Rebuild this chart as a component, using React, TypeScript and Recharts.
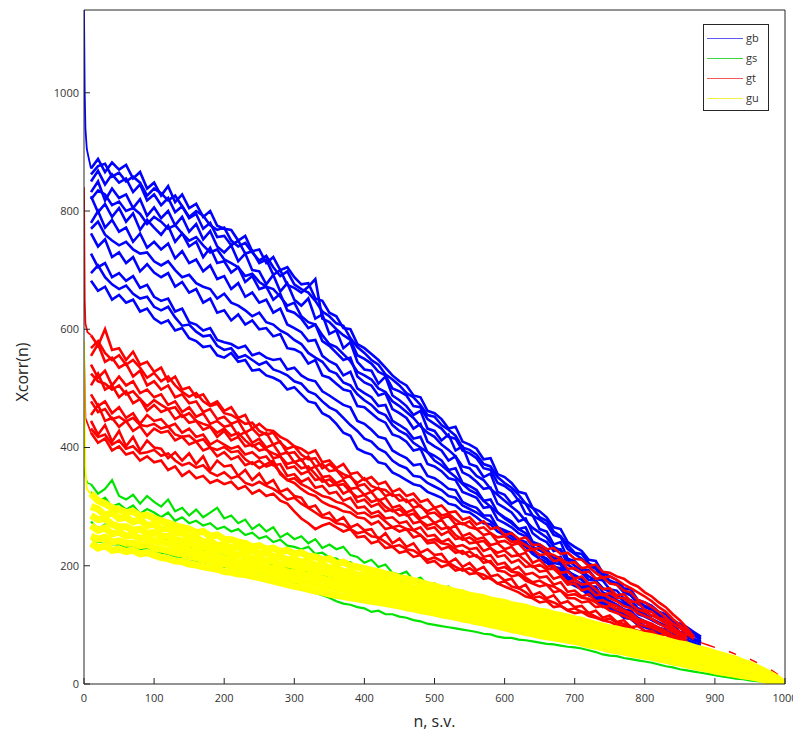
import React from 'react';
import { LineChart, Line, XAxis, YAxis, Legend } from 'recharts';

const X_TICKS = [0, 100, 200, 300, 400, 500, 600, 700, 800, 900, 1000];
const Y_TICKS = [0, 200, 400, 600, 800, 1000];
const SERIES_NAMES = ['gb', 'gs', 'gt', 'gu'];

// heads (spike at n = 0)
const GB_HEAD_X = [0, 1, 2, 4, 7, 10];
const GB_HEAD_Y = [1140, 1000, 940, 905, 888, 872];
const GT_HEAD_X = [0, 1, 2, 5, 10];
const GT_HEAD_Y = [840, 650, 610, 595, 590];
const GT_HEAD2_X = [0, 2, 10];
const GT_HEAD2_Y = [560, 450, 425];
const GS_HEAD_X = [0, 2, 5, 10];
const GS_HEAD_Y = [365, 350, 340, 338];
const GU_HEAD_X = [0, 1, 2, 4, 7, 10];
const GU_HEAD_Y = [580, 430, 360, 330, 325, 322];

// gb series, n = 10, 20, 30 ...
const GB_1 = [872,888,866,882,870, 878,855,866,838,848, 826,842,815,828,805, 812,790,800,775,770, 768,750,758,732,735, 712,722,700,705,688, 676,678,652,648,628, 622,602,600,575,568, 558,548,535,522,512, 505,488,485,462,458, 448,432,435,410,405, 398,380,382,355,350, 340,325,322,298,292, 282,265,262,240,232, 225,210,208,188,182, 176,162,160,142,138, 132,122,118,106,102, 96,88,80];
const GB_1B = [862,876,880,858,865, 850,858,848,826,838, 830,818,826,808,790, 800,792,776,768,772, 750,740,746,730,716, 724,705,690,698,676, 668,662,648,630,622, 610,606,585,570,560, 548,540,524,515,505, 492,485,472,455,452, 438,430,420,400,396, 388,372,368,350,340, 332,320,305,298,282, 276,258,250,235,222, 220,204,198,185,175, 170,160,150,140,132, 128,118,110,104,96, 94,84,78];
const GB_2 = [850,868,845,862,848, 855,832,845,818,828, 810,822,798,808,788, 795,770,780,756,758, 742,750,728,732,712, 718,692,700,675,670, 662,672,685,618,612, 600,590,582,556,550, 542,528,522,500,495, 488,470,468,448,440, 432,418,415,395,390, 382,365,362,340,335, 326,310,305,285,278, 270,252,248,228,220, 212,200,195,178,172, 168,155,150,135,130, 125,116,112,100,95, 90,82,75];
const GB_3 = [832,850,818,838,822, 828,805,820,792,806, 788,800,776,790,765, 778,752,766,740,730, 742,715,728,700,698, 676,692,664,678,650, 640,652,618,625,592, 598,568,578,545,532, 530,508,520,488,480, 470,455,462,432,428, 412,422,395,402,372, 368,350,356,325,320, 305,312,288,285,262, 258,236,240,212,208, 195,192,178,175,160, 158,145,142,128,124, 115,116,102,100,88, 86,76,72];
const GB_3B = [820,835,828,810,816, 800,805,795,778,790, 782,770,776,762,750, 756,742,730,735,718, 712,705,690,694,680, 672,668,655,640,645, 622,612,608,590,575, 570,558,546,528,522, 515,500,494,478,470, 460,450,436,425,418, 405,396,385,368,365, 352,345,330,320,310, 300,290,276,264,256, 248,232,226,210,200, 192,182,175,162,156, 150,140,132,124,118, 110,104,98,90,86, 80,76,70];
const GB_4 = [825,798,812,790,805, 782,796,768,785,772, 760,775,748,762,740, 748,722,738,712,715, 696,705,680,690,668, 672,650,660,632,628, 618,602,608,580,572, 560,548,552,520,510, 505,488,492,465,458, 450,432,440,410,402, 395,378,385,358,352, 342,330,332,305,298, 290,275,280,255,246, 240,225,228,202,194, 188,176,175,155,150, 142,136,132,118,114, 108,102,98,88,84, 80,74,70];
const GB_5 = [780,800,772,785,765, 772,748,762,738,748, 735,745,720,732,712, 718,698,708,685,690, 668,678,655,662,645, 650,628,635,608,602, 595,580,582,555,546, 540,522,528,500,492, 485,470,472,445,438, 430,415,418,392,386, 378,362,365,340,335, 328,310,312,290,282, 275,262,265,240,236, 228,212,215,190,184, 178,165,165,145,140, 134,126,124,110,106, 100,95,92,82,78, 75,70,66];
const GB_5B = [770,782,760,750,742, 748,735,728,730,715, 708,715,700,688,692, 678,672,668,652,660, 645,640,632,622,628, 612,608,598,592,582, 575,560,552,545,530, 525,510,505,490,480, 472,460,455,438,428, 422,408,400,392,378, 370,360,350,338,328, 322,310,300,290,280, 272,262,255,240,232, 225,212,205,192,182, 176,165,158,148,140, 134,126,120,112,106, 100,94,88,84,78, 74,68];
const GB_6 = [762,740,752,722,730, 712,722,698,710,696, 688,695,672,680,662, 668,645,652,628,632, 615,625,608,615,600, 602,588,592,568,566, 560,542,548,522,518, 508,498,495,470,468, 458,448,442,422,418, 410,395,398,372,368, 360,348,345,325,320, 315,298,300,278,272, 265,255,250,232,226, 220,205,202,182,176, 170,160,155,142,136, 132,122,120,108,104, 100,92,90,80,76, 72,68];
const GB_7 = [728,705,712,688,695, 682,690,670,675,655, 648,652,630,635,612, 608,598,602,582,578, 575,568,572,556,560, 552,548,550,532,535, 522,515,512,495,488, 480,472,468,445,440, 430,418,415,395,388, 382,370,372,352,348, 340,330,328,308,302, 298,285,285,265,260, 255,245,240,225,218, 212,198,196,178,170, 165,155,150,138,130, 126,118,115,104,98, 95,88,86,78,74, 70,66];
const GB_7B = [695,708,688,676,668, 674,660,652,655,638, 632,638,620,606,608, 596,588,590,572,565, 568,552,556,548,540, 545,532,528,522,512, 508,495,490,478,468, 462,450,438,428,415, 410,398,392,378,370, 365,352,350,340,334, 328,318,315,302,296, 290,282,275,265,258, 250,242,236,225,218, 210,200,192,180,170, 165,155,148,138,130, 126,118,112,104,98, 94,88,84,78,73, 70];
const GB_8 = [682,665,672,650,658, 645,650,630,635,618, 610,615,598,602,585, 580,570,572,556,552, 560,545,548,530,532, 522,518,512,498,502, 490,478,475,458,452, 440,425,420,398,392, 388,375,372,358,352, 345,338,335,325,320, 315,305,302,292,290, 282,272,270,258,252, 245,238,232,220,212, 205,195,190,172,166, 160,150,145,132,126, 122,112,110,100,96, 92,86,84,76,72, 68];

// gs series
const GS_1 = [338,322,330,345,318, 312,320,305,318,308, 300,312,292,298,285, 295,282,290,298,280, 285,272,278,262,270, 258,265,248,255,245, 250,238,245,230,236, 228,232,218,215,205, 210,198,202,188,185, 190,175,180,168,170, 162,165,155,158,150, 152,142,145,135,132, 135,126,128,120,122, 115,118,110,112,106, 108,100,102,95,92, 94,86,88,80,78, 80,72,74,66,62, 64,56,58,50,45, 46,38,40,30,26, 24,18,14,8,0];
const GS_2 = [325,308,315,300,305, 295,302,288,296,290, 282,290,276,282,272, 276,268,272,262,266, 258,262,252,256,246, 250,240,244,234,232, 228,232,220,222,214, 212,205,206,196,192, 188,190,180,182,172, 172,165,165,158,155, 150,152,144,146,138, 138,132,132,125,122, 120,118,114,112,108, 108,104,104,98,98, 94,92,88,86,82, 80,78,74,72,68, 66,64,60,58,54, 52,50,46,42,38, 36,32,28,24,20, 16,12,8,5,0];
const GS_3 = [275,262,270,255,262, 250,258,244,252,245, 240,246,234,240,230, 236,226,232,222,220, 216,222,210,214,206, 208,200,204,196,195, 188,192,182,186,178, 180,172,174,166,165, 158,162,152,155,148, 150,142,144,136,135, 128,132,124,126,120, 122,116,116,110,110, 104,106,100,100,96, 96,92,90,86,85, 80,82,76,76,72, 72,68,66,62,60, 56,56,52,50,46, 46,42,40,36,32, 30,28,24,20,16, 14,10,7,4,0];
const GS_4 = [246,240,242,236,236, 232,234,228,230,226, 222,220,216,215,211, 209,206,204,202,198, 197,194,193,190,188, 185,182,179,176,173, 166,160,154,150,146, 140,136,134,130,128, 122,124,118,118,114, 112,108,106,102,100, 98,96,94,92,90, 88,85,84,80,78, 78,75,74,72,70, 68,67,65,63,62, 60,57,54,50,48, 47,44,42,40,38, 36,33,30,28,25, 23,21,19,17,15, 13,11,9,8,6, 5,4,2,1,0];

// gt series
const GT_1 = [590,572,600,565,568, 548,562,540,545,528, 535,512,520,498,502, 485,490,472,478,462, 468,450,455,432,440, 430,428,418,412,402, 398,390,395,375,378, 365,372,355,358,345, 350,338,342,325,330, 318,322,308,312,298, 302,290,292,278,282, 270,275,262,265,252, 255,245,248,235,236, 228,230,220,222,212, 210,200,202,190,188, 182,178,170,165,155, 148,138,130,118,108, 95,80];
const GT_1B = [568,580,560,548,556, 540,548,535,518,526, 512,520,505,494,486, 492,478,470,474,458, 455,448,440,442,428, 422,425,408,398,402, 388,380,382,365,372, 362,355,350,340,348, 335,330,328,318,320, 308,312,300,292,298, 285,288,278,270,275, 262,265,255,248,250, 240,242,235,228,230, 222,218,212,204,206, 196,198,188,180,182, 176,168,162,155,148, 140,130,122,110,100, 90,78];
const GT_2 = [555,575,545,552,535, 542,520,530,505,512, 498,505,485,490,475, 478,460,465,448,452, 440,445,425,432,420, 425,405,410,390,392, 378,385,368,372,360, 362,348,352,335,338, 325,332,318,322,310, 312,298,302,288,290, 280,284,270,272,265, 262,252,255,240,242, 235,238,225,228,218, 220,208,210,195,196, 188,190,178,180,170, 168,158,155,142,138, 130,122,112,102,95, 85,76];
const GT_3 = [540,518,530,505,520, 505,512,492,498,485, 490,472,478,460,468, 452,458,440,445,435, 438,420,426,408,415, 400,405,388,392,375, 380,362,368,350,352, 340,345,330,332,320, 325,310,315,298,302, 290,295,280,284,272, 278,262,268,250,255, 245,248,235,238,228, 232,218,222,205,210, 198,200,188,190,178, 182,170,172,160,162, 150,152,140,138,125, 122,112,108,96,88, 80];
const GT_3B = [525,512,508,498,505, 490,495,482,470,480, 472,465,468,452,458, 445,440,436,425,432, 420,425,412,402,408, 396,390,385,372,376, 365,368,355,342,346, 336,338,325,316,320, 308,312,300,292,296, 285,288,276,268,272, 262,265,252,244,248, 240,242,230,222,226, 216,218,208,198,202, 194,195,184,172,176, 168,170,160,150,154, 146,145,135,126,122, 116,110,102,92,86, 78];
const GT_4 = [505,525,498,505,485, 495,475,482,462,472, 460,465,448,455,442, 445,430,435,418,428, 412,418,402,405,395, 398,382,385,365,368, 355,360,345,348,335, 338,322,328,308,312, 300,305,292,295,285, 288,272,275,262,265, 252,258,245,248,238, 240,225,230,215,218, 205,210,198,200,190, 192,178,182,168,170, 158,162,150,152,145, 140,132,128,120,115, 110,102,96,88,82, 76];
const GT_5 = [490,470,478,458,468, 450,458,440,455,445, 448,435,440,425,432, 418,422,405,412,405, 398,402,388,392,382, 385,370,372,352,355, 342,348,332,335,322, 325,310,315,298,300, 288,292,280,282,272, 275,260,265,250,252, 240,245,232,235,228, 230,215,218,202,205, 192,198,185,188,180, 182,168,172,156,158, 148,152,140,142,136, 132,125,120,110,106, 102,95,90,82,78, 72];
const GT_5B = [478,460,465,448,452, 444,450,438,436,440, 432,436,422,418,420, 410,414,400,396,401, 392,394,380,372,378, 368,372,358,345,348, 338,332,325,318,315, 308,305,298,288,290, 282,285,275,265,268, 262,260,252,242,245, 238,236,228,220,224, 215,212,205,195,198, 190,188,180,172,175, 168,165,158,150,152, 146,144,138,130,132, 126,122,115,106,104, 98,95,86,80,76, 70];
const GT_6 = [455,472,445,450,435, 445,428,436,420,432, 425,428,412,418,405, 410,395,400,385,392, 380,385,370,375,365, 372,378,355,345,340, 330,322,318,308,302, 298,292,290,282,280, 270,275,262,265,258, 262,248,252,238,240, 228,232,222,225,215, 218,205,208,192,190, 182,185,175,170,165, 168,155,158,145,145, 138,140,130,132,124, 120,115,110,102,98, 95,90,84,78,74, 70];
const GT_7 = [445,422,438,410,428, 402,418,395,412,400, 398,382,392,378,390, 372,385,362,378,368, 370,352,362,345,356, 338,345,325,330,318, 315,298,302,285,290, 275,282,265,270,260, 262,245,255,238,246, 232,238,222,228,218, 220,205,212,198,205, 192,198,182,185,175, 178,162,168,150,155, 145,150,136,140,130, 132,120,124,112,116, 105,108,96,98,90, 90,82,84,74,72, 66];
const GT_7B = [432,418,422,405,412, 398,402,390,392,396, 386,390,378,370,374, 366,370,358,352,358, 348,352,340,336,342, 335,330,322,312,315, 305,298,290,282,280, 272,270,262,255,258, 250,248,240,232,235, 228,226,218,210,214, 208,205,198,192,196, 188,185,178,170,174, 165,162,155,146,148, 142,138,132,125,128, 122,120,114,108,111, 104,102,96,88,89, 86,82,76,70,69, 64];
const GT_8 = [425,408,415,395,402, 388,392,378,385,375, 378,362,368,352,360, 348,352,340,345,338, 342,330,335,322,328, 318,322,310,305,292, 280,272,262,268,272, 265,258,262,248,250, 238,242,230,232,222, 225,215,218,205,208, 198,202,192,195,186, 188,178,180,170,165, 160,155,148,145,138, 140,130,132,124,120, 122,115,112,108,105, 100,98,92,90,85, 84,80,76,72,68, 64];
const GT_TAIL = [70, 66, 62, null, 55, 50, null, 42, 36, null, 24, 16];

// gu series
const GU_1 = [322,310,305,298,295, 290,292,284,286,280, 276,272,268,265,262, 256,258,250,252,245, 244,240,238,232,234, 228,230,224,226,220, 222,216,215,210,212, 204,206,200,198,195, 192,190,186,184,180, 178,175,172,168,166, 162,160,156,154,150, 148,146,142,140,138, 134,132,130,126,123, 122,118,116,113,110, 108,104,101,98,95, 93,90,88,85,82, 80,77,74,71,68, 66,62,59,56,52, 49,45,42,37,33, 28,22,16,9,0];
const GU_2 = [300,296,285,290,280, 282,274,278,268,270, 262,264,255,256,248, 248,240,242,234,236, 230,232,225,226,220, 222,215,216,210,211, 206,208,200,202,196, 196,190,190,184,185, 180,180,174,174,168, 168,162,162,156,157, 151,152,146,146,141, 140,136,135,130,130, 125,125,120,119,115, 114,110,109,104,103, 99,98,93,92,88, 87,83,82,77,76, 72,71,66,65,61, 59,55,53,49,46, 43,39,36,32,29, 24,19,13,7,0];
const GU_3 = [285,278,280,270,266, 266,260,262,255,256, 250,250,244,242,238, 236,232,230,226,224, 222,218,218,212,212, 208,208,202,203,200, 195,196,190,190,187, 184,180,180,175,174, 170,169,165,164,161, 157,156,152,150,147, 144,142,138,137,133, 131,128,126,123,121, 118,116,112,110,107, 105,102,100,97,95, 92,89,86,83,80, 78,75,73,70,68, 66,63,60,58,55, 52,49,46,43,40, 37,34,31,28,25, 20,16,11,6,0];
const GU_4 = [268,260,264,254,257, 250,252,246,248,242, 240,238,232,232,226, 225,220,220,214,212, 212,206,207,202,201, 197,196,192,190,188, 184,184,179,178,175, 173,170,169,165,164, 160,159,155,154,151, 148,147,142,141,138, 135,134,129,128,125, 122,120,117,115,112, 109,107,103,101,98, 96,93,92,89,87, 84,82,78,76,73, 71,68,66,63,61, 58,56,53,51,48, 45,43,40,37,34, 31,29,26,23,20, 16,13,9,5,0];
const GU_5 = [250,245,248,240,242, 238,238,234,236,230, 228,225,222,220,215, 214,210,208,205,203, 200,198,196,193,192, 188,186,182,180,177, 174,172,169,166,164, 162,160,157,155,153, 151,149,146,144,142, 139,137,134,131,129, 126,124,121,119,116, 113,111,108,106,104, 101,98,95,93,90, 88,86,84,82,80, 77,74,71,68,65, 63,61,58,56,54, 52,49,47,44,42, 39,37,34,31,28, 26,23,21,18,16, 13,10,7,4,0];
const GU_6 = [238,230,234,226,228, 224,226,220,222,218, 214,212,208,207,203, 201,198,196,194,190, 189,186,185,182,180, 177,174,171,168,165, 163,160,157,155,152, 150,148,146,144,142, 140,138,136,134,132, 129,127,124,122,120, 117,115,113,110,108, 105,103,100,98,95, 92,90,87,85,82, 80,78,76,74,72, 69,66,64,61,58, 56,54,51,49,47, 45,42,40,37,35, 32,30,27,25,22, 20,18,16,14,12, 10,7,5,2,0];

const GB_LINES = [GB_1, GB_1B, GB_2, GB_3, GB_3B, GB_4, GB_5, GB_5B, GB_6, GB_7, GB_7B, GB_8];
const GS_LINES = [GS_1, GS_2, GS_3, GS_4];
const GT_LINES = [GT_1, GT_1B, GT_2, GT_3, GT_3B, GT_4, GT_5, GT_5B, GT_6, GT_7, GT_7B, GT_8];
const GU_LINES = [GU_1, GU_2, GU_3, GU_4, GU_5, GU_6];

const BLUE = '#0000ff';
const GREEN = '#00e400';
const RED = '#ff0000';
const YELLOW = '#ffff00';
const LEGEND_COLORS = ['#5c5cf0', '#3ed83e', '#f25a5a', '#f2f040'];
const AXIS = '#262626';
const FONT = '"Open Sans", "Liberation Sans", sans-serif';

const mk = (vals: (number | null)[], x0 = 10) => vals.map((y, i) => ({ x: x0 + i * 10, y }));
const mkXY = (xs: number[], ys: number[]) => xs.map((x, i) => ({ x, y: ys[i] }));

const YLabel = () => (
  <text x={14} y={364} transform="rotate(-90 14 364)" textAnchor="middle" dominantBaseline="central"
    fontSize={16} fill={AXIS} fontFamily={FONT}>Xcorr(n)</text>
);
const XLabel = () => (
  <text x={426.5} y={719} textAnchor="middle" fontSize={16} fill={AXIS} fontFamily={FONT}>n, s.v.</text>
);

const LegendBox = () => (
  <div style={{ width: 64, height: 82, border: `1px solid ${AXIS}`, background: '#fff', fontFamily: FONT, fontSize: 11, paddingTop: 3, boxSizing: 'content-box' }}>
    {SERIES_NAMES.map((n, i) => (
      <div key={n} style={{ display: 'flex', alignItems: 'center', height: 20 }}>
        <div style={{ width: 36, height: 0, borderTop: `1.5px solid ${LEGEND_COLORS[i]}`, marginLeft: 3 }} />
        <span style={{ marginLeft: 3, color: '#333', lineHeight: '20px' }}>{n}</span>
      </div>
    ))}
  </div>
);

const lineProps = { dataKey: 'y', dot: false, activeDot: false, isAnimationActive: false, legendType: 'none' as const };
const W_BR = 2.6;

export default function App() {
  return (
    <div style={{ width: 793, height: 738, background: '#fff', fontFamily: FONT }}>
      <LineChart width={793} height={738} margin={{ top: 1, right: 15, bottom: 0, left: 0 }}>
        <XAxis dataKey="x" type="number" domain={[0, 1000]} ticks={X_TICKS} interval={0} height={62}
          tickSize={-6} tickMargin={16} stroke={AXIS}
          tick={{ fill: '#333', fontSize: 11, fontFamily: FONT }} label={<XLabel />} allowDataOverflow />
        <XAxis xAxisId="top" orientation="top" dataKey="x" type="number" domain={[0, 1000]} ticks={X_TICKS}
          interval={0} height={1} tickSize={-6} tick={false} stroke={AXIS} allowDataOverflow />
        <YAxis type="number" domain={[0, 1140]} ticks={Y_TICKS} interval={0} width={76} tickSize={-6} tickMargin={11}
          stroke={AXIS} tick={{ fill: '#333', fontSize: 11, fontFamily: FONT }} label={<YLabel />} allowDataOverflow />
        <YAxis yAxisId="right" orientation="right" type="number" domain={[0, 1140]} ticks={Y_TICKS} interval={0}
          width={1} tickSize={-6} tick={false} stroke={AXIS} allowDataOverflow />

        <Line {...lineProps} data={mkXY(GB_HEAD_X, GB_HEAD_Y)} stroke={BLUE} strokeWidth={1.8} />
        {GB_LINES.map((d, i) => (
          <Line key={'gb' + i} {...lineProps} data={mk(d)} stroke={BLUE} strokeWidth={W_BR} />
        ))}
        <Line {...lineProps} data={mkXY(GS_HEAD_X, GS_HEAD_Y)} stroke={GREEN} strokeWidth={1.6} />
        {GS_LINES.map((d, i) => (
          <Line key={'gs' + i} {...lineProps} data={mk(d)} stroke={GREEN} strokeWidth={i === 3 ? 2.2 : 2.2} />
        ))}
        <Line {...lineProps} data={mkXY(GT_HEAD_X, GT_HEAD_Y)} stroke={RED} strokeWidth={1.8} />
        <Line {...lineProps} data={mkXY(GT_HEAD2_X, GT_HEAD2_Y)} stroke={RED} strokeWidth={1.8} />
        {GT_LINES.map((d, i) => (
          <Line key={'gt' + i} {...lineProps} data={mk(d)} stroke={RED} strokeWidth={W_BR} />
        ))}
        <Line {...lineProps} data={mk(GT_TAIL, 880)} stroke={RED} strokeWidth={1.4} />
        <Line {...lineProps} data={mkXY(GU_HEAD_X, GU_HEAD_Y)} stroke={YELLOW} strokeWidth={2} />
        {GU_LINES.map((d, i) => (
          <Line key={'gu' + i} {...lineProps} data={mk(d)} stroke={YELLOW} strokeWidth={7} />
        ))}

        <Legend layout="horizontal" verticalAlign="middle" align="center" content={<LegendBox />}
          wrapperStyle={{ left: 695, top: 16, width: 66, height: 86 }} />
      </LineChart>
    </div>
  );
}
